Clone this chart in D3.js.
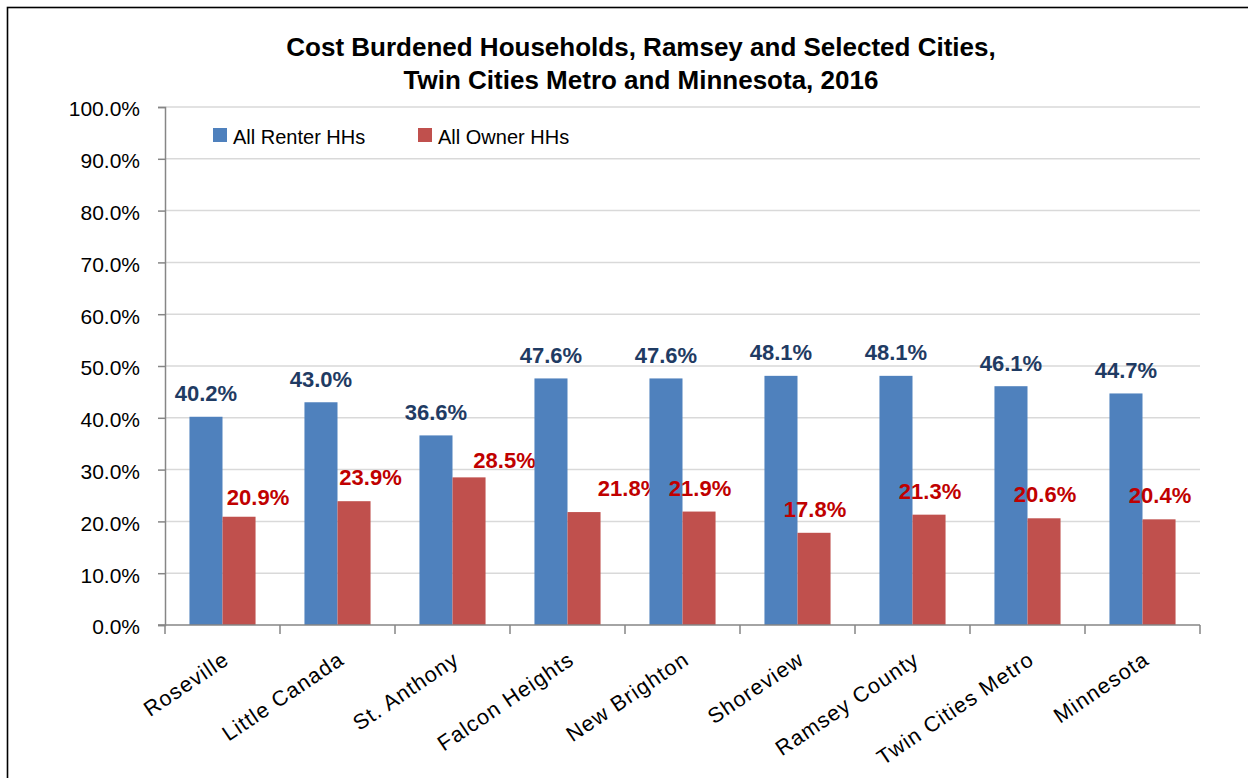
<!DOCTYPE html>
<html>
<head>
<meta charset="utf-8">
<script src="https://cdn.jsdelivr.net/npm/d3@7"></script>
<style>
  body { margin: 0; background: #fff; }
  svg { display: block; font-family: "Liberation Sans", Arial, sans-serif; }
</style>
</head>
<body>
<div id="chart"></div>
<script>
const categories = ['Roseville', 'Little Canada', 'St. Anthony', 'Falcon Heights', 'New Brighton',
  'Shoreview', 'Ramsey County', 'Twin Cities Metro', 'Minnesota'];
const renterValues = [40.2, 43.0, 36.6, 47.6, 47.6, 48.1, 48.1, 46.1, 44.7];
const ownerValues = [20.9, 23.9, 28.5, 21.8, 21.9, 17.8, 21.3, 20.6, 20.4];
const seriesNames = ['All Renter HHs', 'All Owner HHs'];
const yTicks = [0, 10, 20, 30, 40, 50, 60, 70, 80, 90, 100];

// owner labels were dragged by hand in the original, nudge them the same way (px)
const ownerLabelDx = [18, 15.5, 34.5, 44, 0, 0, 0, 0, 0];
const ownerLabelDy = [4, 0, 7, 0, 0, 0, 0, 0, 0];

const width = 1248;
const height = 778;
const margin = { top: 107, right: 48, bottom: 153, left: 165 };
const colors = ['#4F81BD', '#C0504D'];
const labelColors = ['#1F3B63', '#C00000'];

const svg = d3.select('#chart')
  .append('svg')
  .attr('width', width)
  .attr('height', height);

svg.append('rect')
  .attr('width', width)
  .attr('height', height)
  .attr('fill', '#fff');

// outer frame (only top and left edges fall inside the picture)
svg.append('rect')
  .attr('x', 7.5)
  .attr('y', 7.5)
  .attr('width', width + 20)
  .attr('height', height + 20)
  .attr('fill', 'none')
  .attr('stroke', '#000')
  .attr('stroke-width', 1.6);

const innerW = width - margin.left - margin.right;
const innerH = height - margin.top - margin.bottom;

const g = svg.append('g')
  .attr('transform', `translate(${margin.left},${margin.top})`);

const x0 = d3.scaleBand()
  .domain(categories)
  .range([0, innerW])
  .padding(0);

const x1 = d3.scaleBand()
  .domain(seriesNames)
  .range([0, x0.bandwidth()])
  .paddingInner(0)
  .paddingOuter(0.74);

const y = d3.scaleLinear()
  .domain([0, 100])
  .range([innerH, 0]);

// gridlines
g.append('g')
  .selectAll('line')
  .data(yTicks.filter(d => d > 0))
  .enter()
  .append('line')
  .attr('x1', 0)
  .attr('x2', innerW)
  .attr('y1', d => y(d))
  .attr('y2', d => y(d))
  .attr('stroke', '#D9D9D9')
  .attr('stroke-width', 1.5);

// bars
const rows = categories.map((c, i) => ({ cat: c, vals: [renterValues[i], ownerValues[i]], i }));

const groups = g.selectAll('.grp')
  .data(rows)
  .enter()
  .append('g')
  .attr('transform', d => `translate(${x0(d.cat)},0)`);

groups.selectAll('rect')
  .data(d => d.vals.map((v, k) => ({ v, k })))
  .enter()
  .append('rect')
  .attr('x', d => x1(seriesNames[d.k]))
  .attr('width', x1.bandwidth())
  .attr('y', d => y(d.v))
  .attr('height', d => innerH - y(d.v))
  .attr('fill', d => colors[d.k]);

// data labels
groups.append('text')
  .attr('x', x1(seriesNames[0]) + x1.bandwidth() / 2)
  .attr('y', d => y(d.vals[0]) - 15.5)
  .attr('text-anchor', 'middle')
  .attr('font-size', '22px')
  .attr('font-weight', 'bold')
  .attr('fill', labelColors[0])
  .text(d => d.vals[0].toFixed(1) + '%');

groups.append('text')
  .attr('x', d => x1(seriesNames[1]) + x1.bandwidth() / 2 + 1 + ownerLabelDx[d.i])
  .attr('y', d => y(d.vals[1]) - 16 + ownerLabelDy[d.i])
  .attr('text-anchor', 'middle')
  .attr('font-size', '22px')
  .attr('font-weight', 'bold')
  .attr('fill', labelColors[1])
  .text(d => d.vals[1].toFixed(1) + '%');

// y axis
const yAxis = g.append('g')
  .call(d3.axisLeft(y).tickValues(yTicks).tickSize(7).tickPadding(18)
    .tickFormat(d => d.toFixed(1) + '%'));
yAxis.selectAll('text')
  .attr('font-size', '21px')
  .attr('font-family', '"Liberation Sans", Arial, sans-serif')
  .attr('fill', '#000')
  .attr('dy', '0.42em');

// x axis: ticks on band edges
const xAxis = g.append('g')
  .attr('transform', `translate(0,${innerH})`);
xAxis.append('line')
  .attr('x1', -7)
  .attr('x2', innerW)
  .attr('stroke', '#868686')
  .attr('stroke-width', 1.5);
xAxis.selectAll('.edge')
  .data(categories.map(c => x0(c)).concat([innerW]))
  .enter()
  .append('line')
  .attr('x1', d => d)
  .attr('x2', d => d)
  .attr('y1', 0)
  .attr('y2', 9)
  .attr('stroke', '#868686')
  .attr('stroke-width', 1.5);
xAxis.selectAll('.lbl')
  .data(categories)
  .enter()
  .append('text')
  .attr('transform', d => `translate(${x0(d) + x0.bandwidth() / 2 + 8},38) rotate(-34)`)
  .attr('text-anchor', 'end')
  .attr('font-size', '21.5px')
  .attr('letter-spacing', '1.1px')
  .attr('fill', '#000')
  .text(d => d);

g.selectAll('.domain, .tick line')
  .attr('stroke', '#868686')
  .attr('stroke-width', 1.5);

// legend
const legend = svg.append('g')
  .attr('transform', 'translate(213,128)');
const items = legend.selectAll('g')
  .data(seriesNames)
  .enter()
  .append('g')
  .attr('transform', (d, i) => `translate(${i * 205},0)`);
items.append('rect')
  .attr('width', 14)
  .attr('height', 14)
  .attr('fill', (d, i) => colors[i]);
items.append('text')
  .attr('x', 20)
  .attr('y', 15.5)
  .attr('font-size', '20px')
  .attr('fill', '#000')
  .text(d => d);

// title
const titleLines = ['Cost Burdened Households, Ramsey and Selected Cities,',
  'Twin Cities Metro and Minnesota, 2016'];
svg.append('text')
  .attr('text-anchor', 'middle')
  .attr('font-size', '26px')
  .attr('font-weight', 'bold')
  .attr('fill', '#000')
  .selectAll('tspan')
  .data(titleLines)
  .enter()
  .append('tspan')
  .attr('x', 641)
  .attr('y', (d, i) => 56 + i * 33)
  .text(d => d);
</script>
</body>
</html>
